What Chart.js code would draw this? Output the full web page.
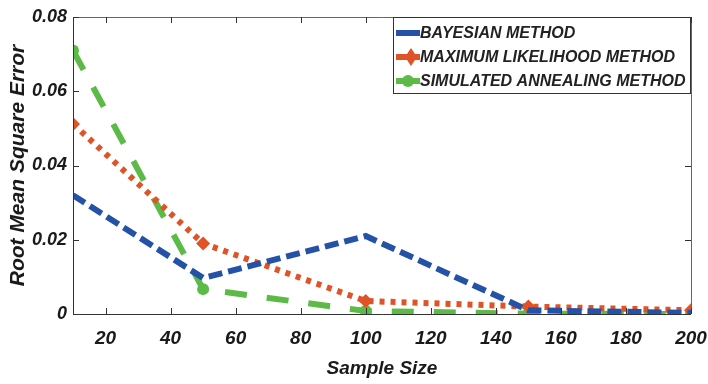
<!DOCTYPE html>
<html>
<head>
<meta charset="utf-8">
<script src="https://cdn.jsdelivr.net/npm/chart.js@4/dist/chart.umd.min.js"></script>
<style>
    html, body { margin: 0; padding: 0; background: #fff; }
    #wrap { width: 708px; height: 384px; }
</style>
</head>
<body>
<div id="wrap"><canvas id="RmseChart"></canvas></div>
<script>
// Chart data
const sampleSizes = [10, 50, 100, 150, 200];
const bayesian = [0.0320, 0.0097, 0.0210, 0.0010, 0.0003];
const maxLikelihood = [0.0512, 0.0190, 0.0035, 0.0020, 0.0010];
const simAnnealing = [0.0710, 0.0067, 0.0008, 0.0001, 0.0000];

const xTicks = [20, 40, 60, 80, 100, 120, 140, 160, 180, 200];
const yTicks = [0, 0.02, 0.04, 0.06, 0.08];

const seriesNames = ['BAYESIAN METHOD', 'MAXIMUM LIKELIHOOD METHOD', 'SIMULATED ANNEALING METHOD'];

// Colours
const blue = '#2352a6';
const orange = '#e05326';
const green = '#5cba47';

const fontFamily = "'Liberation Sans', Arial, sans-serif";

function toPoints(values) {
    return sampleSizes.map((x, i) => ({ x: x, y: values[i] }));
}

// Frame with inward tick marks, MATLAB style
const framePlugin = {
    id: 'frame',
    afterDatasetsDraw(chart) {
        const { ctx, chartArea: a, scales } = chart;
        ctx.save();
        ctx.lineWidth = 1;
        ctx.strokeStyle = '#666';
        ctx.beginPath();
        ctx.moveTo(a.left, a.top + 0.5);
        ctx.lineTo(a.right + 0.5, a.top + 0.5);
        ctx.lineTo(a.right + 0.5, a.bottom);
        ctx.stroke();
        ctx.strokeStyle = '#333';
        ctx.beginPath();
        ctx.moveTo(a.left + 0.5, a.top);
        ctx.lineTo(a.left + 0.5, a.bottom + 0.5);
        ctx.lineTo(a.right, a.bottom + 0.5);
        ctx.stroke();

        const len = 6;
        ctx.beginPath();
        xTicks.forEach(v => {
            const px = Math.round(scales.x.getPixelForValue(v)) + 0.5;
            ctx.moveTo(px, a.bottom); ctx.lineTo(px, a.bottom - len);
            ctx.moveTo(px, a.top); ctx.lineTo(px, a.top + len);
        });
        yTicks.forEach(v => {
            const py = Math.round(scales.y.getPixelForValue(v)) + 0.5;
            ctx.moveTo(a.left, py); ctx.lineTo(a.left + len, py);
            ctx.moveTo(a.right, py); ctx.lineTo(a.right - len, py);
        });
        ctx.stroke();
        ctx.restore();
    }
};

// Boxed legend in the top right corner
const legendBoxPlugin = {
    id: 'legendBox',
    afterDraw(chart) {
        const { ctx, chartArea: a } = chart;
        const w = 298, h = 77, rowH = 24;
        const left = a.right - w, top = a.top;
        ctx.save();
        ctx.fillStyle = '#fff';
        ctx.fillRect(left, top, w, h);
        ctx.strokeStyle = '#333';
        ctx.lineWidth = 1;
        ctx.strokeRect(left + 0.5, top + 0.5, w - 1, h - 1);

        ctx.font = "italic bold 16px " + fontFamily;
        ctx.textBaseline = 'middle';
        chart.data.datasets.forEach((ds, i) => {
            const cy = top + 16 + i * rowH;
            const x0 = left + 3, x1 = left + 27;
            ctx.strokeStyle = ds.borderColor;
            ctx.lineWidth = 6;
            ctx.beginPath();
            ctx.moveTo(x0, cy); ctx.lineTo(x1, cy);
            ctx.stroke();
            if (ds.pointStyle === 'rectRot') {
                ctx.fillStyle = ds.borderColor;
                ctx.beginPath();
                ctx.moveTo(x0 + 15, cy - 9); ctx.lineTo(x0 + 21, cy);
                ctx.lineTo(x0 + 15, cy + 9); ctx.lineTo(x0 + 9, cy);
                ctx.closePath(); ctx.fill();
            } else if (ds.pointStyle === 'circle') {
                ctx.fillStyle = ds.borderColor;
                ctx.beginPath();
                ctx.arc(x0 + 12, cy, 6, 0, Math.PI * 2);
                ctx.fill();
            }
            ctx.fillStyle = '#222';
            ctx.fillText(seriesNames[i], left + 27, cy + 1);
        });
        ctx.restore();
    }
};

const config = {
    type: 'line',
    data: {
        datasets: [{
            label: seriesNames[0],
            data: toPoints(bayesian),
            borderColor: blue,
            backgroundColor: blue,
            borderWidth: 6,
            borderDash: [14, 6],
            pointRadius: 0,
            pointStyle: false
        }, {
            label: seriesNames[1],
            data: toPoints(maxLikelihood),
            borderColor: orange,
            backgroundColor: orange,
            borderWidth: 6,
            borderDash: [5, 6],
            pointStyle: 'rectRot',
            pointRadius: 7,
            pointBorderWidth: 0
        }, {
            label: seriesNames[2],
            data: toPoints(simAnnealing),
            borderColor: green,
            backgroundColor: green,
            borderWidth: 6,
            borderDash: [22, 20],
            pointStyle: 'circle',
            pointRadius: 6,
            pointBorderWidth: 0
        }]
    },
    options: {
        responsive: true,
        maintainAspectRatio: false,
        animation: false,
        layout: { autoPadding: false, padding: { top: 17, right: 17, left: 0, bottom: 0 } },
        plugins: {
            legend: { display: false },
            tooltip: { enabled: false }
        },
        elements: { line: { tension: 0, borderCapStyle: 'butt' } },
        scales: {
            x: {
                type: 'linear',
                min: 10,
                max: 200,
                afterBuildTicks: axis => { axis.ticks = xTicks.map(v => ({ value: v })); },
                afterFit: axis => {
                    axis.height = 70;
                    axis.paddingLeft = 0;
                    axis.paddingRight = 0;
                },
                grid: { display: false, drawTicks: false },
                border: { display: false },
                ticks: {
                    padding: 13,
                    color: '#1a1a1a',
                    font: { family: fontFamily, size: 19, style: 'italic', weight: 'bold' },
                    maxRotation: 0
                },
                title: {
                    display: true,
                    text: 'Sample Size',
                    color: '#1a1a1a',
                    padding: { top: 4, bottom: 4 },
                    font: { family: fontFamily, size: 19, style: 'italic', weight: 'bold' }
                }
            },
            y: {
                min: 0,
                max: 0.08,
                afterBuildTicks: axis => { axis.ticks = yTicks.map(v => ({ value: v })); },
                afterFit: axis => {
                    axis.width = 73;
                    axis.paddingTop = 0;
                    axis.paddingBottom = 0;
                },
                grid: { display: false, drawTicks: false },
                border: { display: false },
                ticks: {
                    padding: 6,
                    color: '#1a1a1a',
                    callback: v => v === 0 ? '0' : v.toFixed(2),
                    font: { family: fontFamily, size: 18, style: 'italic', weight: 'bold' }
                },
                title: {
                    display: true,
                    text: 'Root Mean Square Error',
                    color: '#1a1a1a',
                    padding: { top: 6, bottom: 0 },
                    font: { family: fontFamily, size: 21, style: 'italic', weight: 'bold' }
                }
            }
        }
    },
    plugins: [framePlugin, legendBoxPlugin]
};

new Chart(document.getElementById('RmseChart'), config);
</script>
</body>
</html>
